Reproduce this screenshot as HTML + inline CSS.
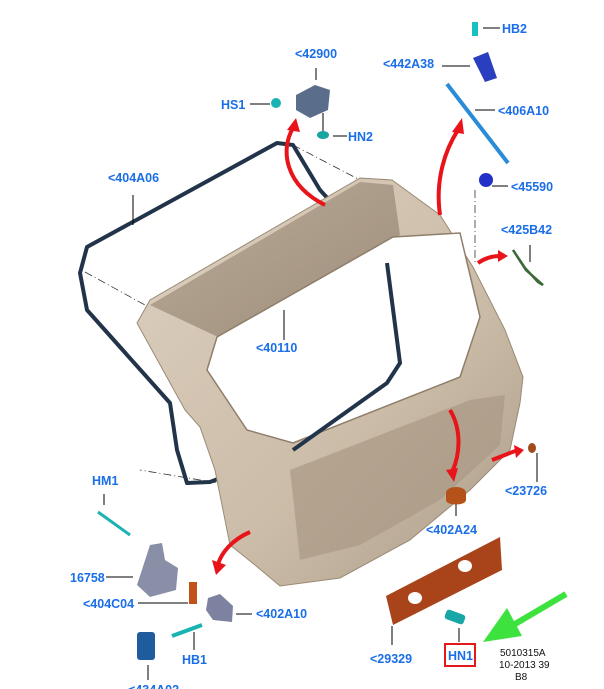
<!DOCTYPE html>
<html><head><meta charset="utf-8"><style>
html,body{margin:0;padding:0;background:#fff;width:604px;height:689px;overflow:hidden}
svg{display:block}
.l{font-family:"Liberation Sans",sans-serif;font-weight:bold;font-size:12.5px;fill:#1a6ee8}
.c{font-family:"Liberation Sans",sans-serif;font-size:10px;fill:#111}
</style></head><body>
<svg width="604" height="689" viewBox="0 0 604 689" xmlns="http://www.w3.org/2000/svg">
<defs>
<linearGradient id="bg" x1="0" y1="0" x2="1" y2="1"><stop offset="0" stop-color="#ddd0bf"/><stop offset="0.6" stop-color="#cbbca8"/><stop offset="1" stop-color="#ab9b88"/></linearGradient>
<linearGradient id="gl" x1="0" y1="0" x2="1" y2="1"><stop offset="0" stop-color="#b9aa97"/><stop offset="1" stop-color="#9e8e7b"/></linearGradient>
</defs>
<g stroke="#333" stroke-width="0.8" stroke-dasharray="8,3,1,3" fill="none">
<line x1="293" y1="145" x2="360" y2="180"/>
<line x1="85" y1="272" x2="145" y2="305"/>
<line x1="405" y1="365" x2="435" y2="380"/>
<line x1="475" y1="190" x2="475" y2="265"/>
<line x1="260" y1="490" x2="140" y2="470"/>
<line x1="375" y1="488" x2="393" y2="493"/>
</g>
<path d="M80,273 L87,247 L277,143 L293,145 L320,190 L387,263 L400,363 L387,383 L293,450 L210,482 L187,483 L177,450 L170,403 L87,310 Z" fill="none" stroke="#22344a" stroke-width="4" stroke-linejoin="round"/>
<path d="M137,323 L150,300 L360,178 L392,180 L440,215 L473,267 L505,330 L523,377 L520,403 L510,450 L470,490 L410,540 L340,578 L280,586 L255,565 L230,545 L215,470 L200,427 L185,410 Z" fill="url(#bg)" stroke="#9a8a76" stroke-width="1"/>
<path d="M150,305 L360,182 L393,185 L400,235 L218,337 Z" fill="url(#gl)"/>
<path d="M290,470 L470,400 L505,395 L500,445 L440,500 L360,545 L300,560 Z" fill="#a99885" opacity="0.7"/>
<path d="M217,337 L393,237 L460,233 L480,317 L460,377 L293,443 L247,430 L207,370 Z" fill="#fff" stroke="#8e7e6b" stroke-width="1.5"/>
<path d="M387,263 L400,363 L387,383 L293,450" fill="none" stroke="#22344a" stroke-width="4"/>
<g fill="none" stroke="#e8141a" stroke-width="4">
<path d="M325,205 C285,185 280,150 293,128"/>
<path d="M440,215 C435,180 445,150 458,130"/>
<path d="M478,263 C485,258 492,256 500,256"/>
<path d="M450,410 C462,430 460,455 452,472"/>
<path d="M492,460 C505,455 512,452 518,450"/>
<path d="M250,532 C232,540 222,552 218,564"/>
</g>
<g fill="#e8141a">
<polygon points="287,130 296,118 300,132"/>
<polygon points="452,132 462,118 464,134"/>
<polygon points="498,250 508,256 498,262"/>
<polygon points="446,470 454,482 458,468"/>
<polygon points="514,445 524,450 516,458"/>
<polygon points="212,560 216,575 226,565"/>
</g>
<path d="M296,95 L315,85 L330,90 L328,110 L310,118 L296,110 Z" fill="#5a6e8c"/>
<circle cx="276" cy="103" r="5" fill="#19b3b3"/>
<ellipse cx="323" cy="135" rx="6" ry="4" fill="#19a6a0"/>
<g stroke="#000" stroke-width="1"><line x1="250" y1="104" x2="270" y2="104"/><line x1="316" y1="68" x2="316" y2="80"/><line x1="333" y1="136" x2="347" y2="136"/><line x1="323" y1="113" x2="323" y2="131"/>
<line x1="483" y1="28" x2="500" y2="28"/><line x1="442" y1="66" x2="470" y2="66"/><line x1="475" y1="110" x2="495" y2="110"/><line x1="492" y1="186" x2="508" y2="186"/><line x1="284" y1="310" x2="284" y2="340"/><line x1="133" y1="195" x2="133" y2="225"/>
<line x1="530" y1="245" x2="530" y2="262"/><line x1="537" y1="453" x2="537" y2="482"/><line x1="456" y1="497" x2="456" y2="516"/>
<line x1="104" y1="494" x2="104" y2="505"/><line x1="106" y1="577" x2="133" y2="577"/><line x1="138" y1="603" x2="188" y2="603"/><line x1="236" y1="614" x2="252" y2="614"/><line x1="194" y1="632" x2="194" y2="650"/><line x1="148" y1="665" x2="148" y2="680"/><line x1="392" y1="626" x2="392" y2="645"/><line x1="459" y1="628" x2="459" y2="642"/></g>
<rect x="472" y="22" width="6" height="14" fill="#19c0c0"/>
<path d="M473,58 L488,52 L497,78 L485,82 Z" fill="#2a3fbf"/>
<line x1="447" y1="84" x2="508" y2="163" stroke="#2a8cd8" stroke-width="4"/>
<circle cx="486" cy="180" r="7" fill="#2230c8"/>
<path d="M513,250 L525,268 L538,282 L543,285 L526,270 Z" fill="none" stroke="#3c6a38" stroke-width="2.5"/>
<ellipse cx="532" cy="448" rx="4" ry="5" fill="#a24a1a"/>
<path d="M446,493 C446,485 466,485 466,493 L466,500 C466,506 446,506 446,500 Z" fill="#b4521a"/>
<line x1="98" y1="512" x2="130" y2="535" stroke="#19b3b3" stroke-width="3"/>
<path d="M150,545 L162,543 L165,560 L178,568 L176,590 L150,597 L137,585 Z" fill="#8a8fa8"/>
<rect x="189" y="582" width="8" height="22" fill="#c0521a"/>
<path d="M208,598 L220,594 L233,606 L232,622 L213,620 L206,610 Z" fill="#7c82a0"/>
<line x1="172" y1="636" x2="202" y2="625" stroke="#19b3b3" stroke-width="4"/>
<rect x="137" y="632" width="18" height="28" rx="3" fill="#1f5c9e"/>
<path d="M386,596 L500,537 L502,570 L393,625 Z" fill="#a9431a"/>
<ellipse cx="415" cy="598" rx="7" ry="6" fill="#fff"/><ellipse cx="465" cy="566" rx="7" ry="6" fill="#fff"/>
<rect x="445" y="612" width="20" height="10" rx="3" fill="#19a6a6" transform="rotate(20 455 617)"/>
<line x1="566" y1="594" x2="515" y2="624" stroke="#3ee23e" stroke-width="6"/>
<polygon points="483,642 507,608 522,636" fill="#3ee23e"/>
<g class="l">
<text x="502" y="33">HB2</text><text x="383" y="68">&lt;442A38</text><text x="498" y="115">&lt;406A10</text>
<text x="511" y="191">&lt;45590</text><text x="501" y="234">&lt;425B42</text><text x="295" y="58">&lt;42900</text>
<text x="221" y="109">HS1</text><text x="348" y="141">HN2</text><text x="108" y="182">&lt;404A06</text>
<text x="256" y="352">&lt;40110</text><text x="92" y="485">HM1</text><text x="70" y="582">16758</text>
<text x="83" y="608">&lt;404C04</text><text x="256" y="618">&lt;402A10</text><text x="182" y="664">HB1</text>
<text x="128" y="694">&lt;434A02</text><text x="505" y="495">&lt;23726</text><text x="426" y="534">&lt;402A24</text>
<text x="370" y="663">&lt;29329</text><text x="448" y="660">HN1</text>
</g>
<rect x="445" y="644" width="30" height="22" fill="none" stroke="#e41a1a" stroke-width="2"/>
<text class="c" x="500" y="656">5010315A</text><text class="c" x="499" y="668">10-2013 39</text><text class="c" x="515" y="680">B8</text>
</svg>
</body></html>
